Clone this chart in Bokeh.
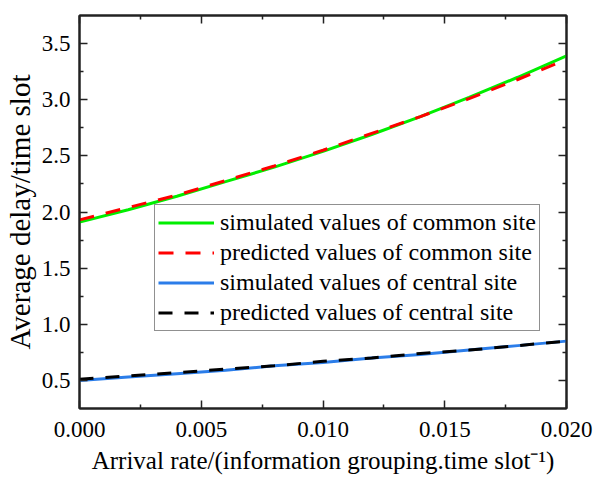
from bokeh.plotting import figure
from bokeh.models import (Range1d, LinearAxis, FixedTicker, Legend, LegendItem,
                          NumeralTickFormatter, CustomJSTickFormatter)
from bokeh.embed import file_html
from bokeh.resources import INLINE

# Arrival rate (information grouping per time slot)
arrival_rate = [0.000, 0.002, 0.004, 0.006, 0.008, 0.010, 0.012, 0.014, 0.016, 0.018, 0.020]
# Average delay per time slot
sim_common = [1.91, 2.02, 2.14, 2.27, 2.40, 2.54, 2.69, 2.85, 3.02, 3.20, 3.39]
pred_common = [1.93, 2.04, 2.15, 2.28, 2.41, 2.55, 2.70, 2.85, 3.01, 3.18, 3.36]
sim_central = [0.50, 0.53, 0.56, 0.59, 0.63, 0.66, 0.70, 0.73, 0.77, 0.81, 0.85]
pred_central = [0.51, 0.54, 0.57, 0.60, 0.63, 0.67, 0.70, 0.74, 0.77, 0.81, 0.85]

x_ticks = [0.000, 0.005, 0.010, 0.015, 0.020]
x_minor = [0.0025, 0.0075, 0.0125, 0.0175]
y_ticks = [0.5, 1.0, 1.5, 2.0, 2.5, 3.0, 3.5]
y_minor = [0.75, 1.25, 1.75, 2.25, 2.75, 3.25]

FONT = "Liberation Serif"

p = figure(width=596, height=477, output_backend="svg", toolbar_location=None,
           x_range=Range1d(0.0, 0.02), y_range=Range1d(0.25, 3.75),
           min_border_left=78, min_border_right=30, min_border_top=15, min_border_bottom=69)
p.xgrid.visible = False
p.ygrid.visible = False
p.outline_line_color = "#222222"
p.outline_line_width = 2
p.background_fill_color = "white"
p.border_fill_color = "white"

r1 = p.line(arrival_rate, sim_common, line_color="#00ee00", line_width=3)
r2 = p.line(arrival_rate, pred_common, line_color="#ff0000", line_width=3, line_dash="15 12")
r3 = p.line(arrival_rate, sim_central, line_color="#2b7de9", line_width=3)
r4 = p.line(arrival_rate, pred_central, line_color="#000000", line_width=3, line_dash="14 12")


def style_axis(ax, ticks, minor):
    ax.ticker = FixedTicker(ticks=ticks, minor_ticks=minor)
    ax.major_tick_in = 8
    ax.major_tick_out = 0
    ax.minor_tick_in = 4
    ax.minor_tick_out = 0
    ax.major_tick_line_width = 1.5
    ax.minor_tick_line_width = 1.5
    ax.major_tick_line_color = "#222222"
    ax.minor_tick_line_color = "#222222"
    ax.axis_line_color = "#222222"
    ax.axis_line_width = 2
    ax.major_label_text_font = FONT
    ax.major_label_text_font_size = "23px"
    ax.major_label_text_color = "black"
    ax.axis_label_text_font = FONT
    ax.axis_label_text_font_style = "normal"
    ax.axis_label_text_color = "black"


xa = p.xaxis[0]
style_axis(xa, x_ticks, x_minor)
xa.formatter = NumeralTickFormatter(format="0.000")
xa.axis_label = "Arrival rate/(information grouping.time slot\u207b\u00b9)"
xa.axis_label_text_font_size = "25px"
xa.major_label_standoff = 13
xa.axis_label_standoff = 7

ya = p.yaxis[0]
style_axis(ya, y_ticks, y_minor)
ya.formatter = NumeralTickFormatter(format="0.0")
ya.axis_label = "Average delay/time slot"
ya.axis_label_text_font_size = "29px"
ya.major_label_standoff = 9
ya.axis_label_standoff = 3

# mirrored frame axes: ticks only, no labels
top = LinearAxis(formatter=CustomJSTickFormatter(code="return '';"))
style_axis(top, x_ticks, x_minor)
top.major_label_standoff = 0
p.add_layout(top, "above")
right = LinearAxis(formatter=CustomJSTickFormatter(code="return '';"))
style_axis(right, y_ticks, y_minor)
right.major_label_standoff = 0
p.add_layout(right, "right")

legend = Legend(items=[
    LegendItem(label="simulated values of common site", renderers=[r1]),
    LegendItem(label="predicted values of common site", renderers=[r2]),
    LegendItem(label="simulated values of central site", renderers=[r3]),
    LegendItem(label="predicted values of central site", renderers=[r4]),
], location=(75, 77))
legend.label_text_font = FONT
legend.label_text_font_size = "24px"
legend.label_text_color = "black"
legend.glyph_width = 56
legend.glyph_height = 29
legend.label_standoff = 6
legend.spacing = 1
legend.padding = 3
legend.margin = 0
legend.border_line_color = "#222222"
legend.border_line_width = 1.2
legend.background_fill_alpha = 1
legend.label_height = 29
p.add_layout(legend, "center")

open("out.html", "w").write(file_html(p, INLINE))
